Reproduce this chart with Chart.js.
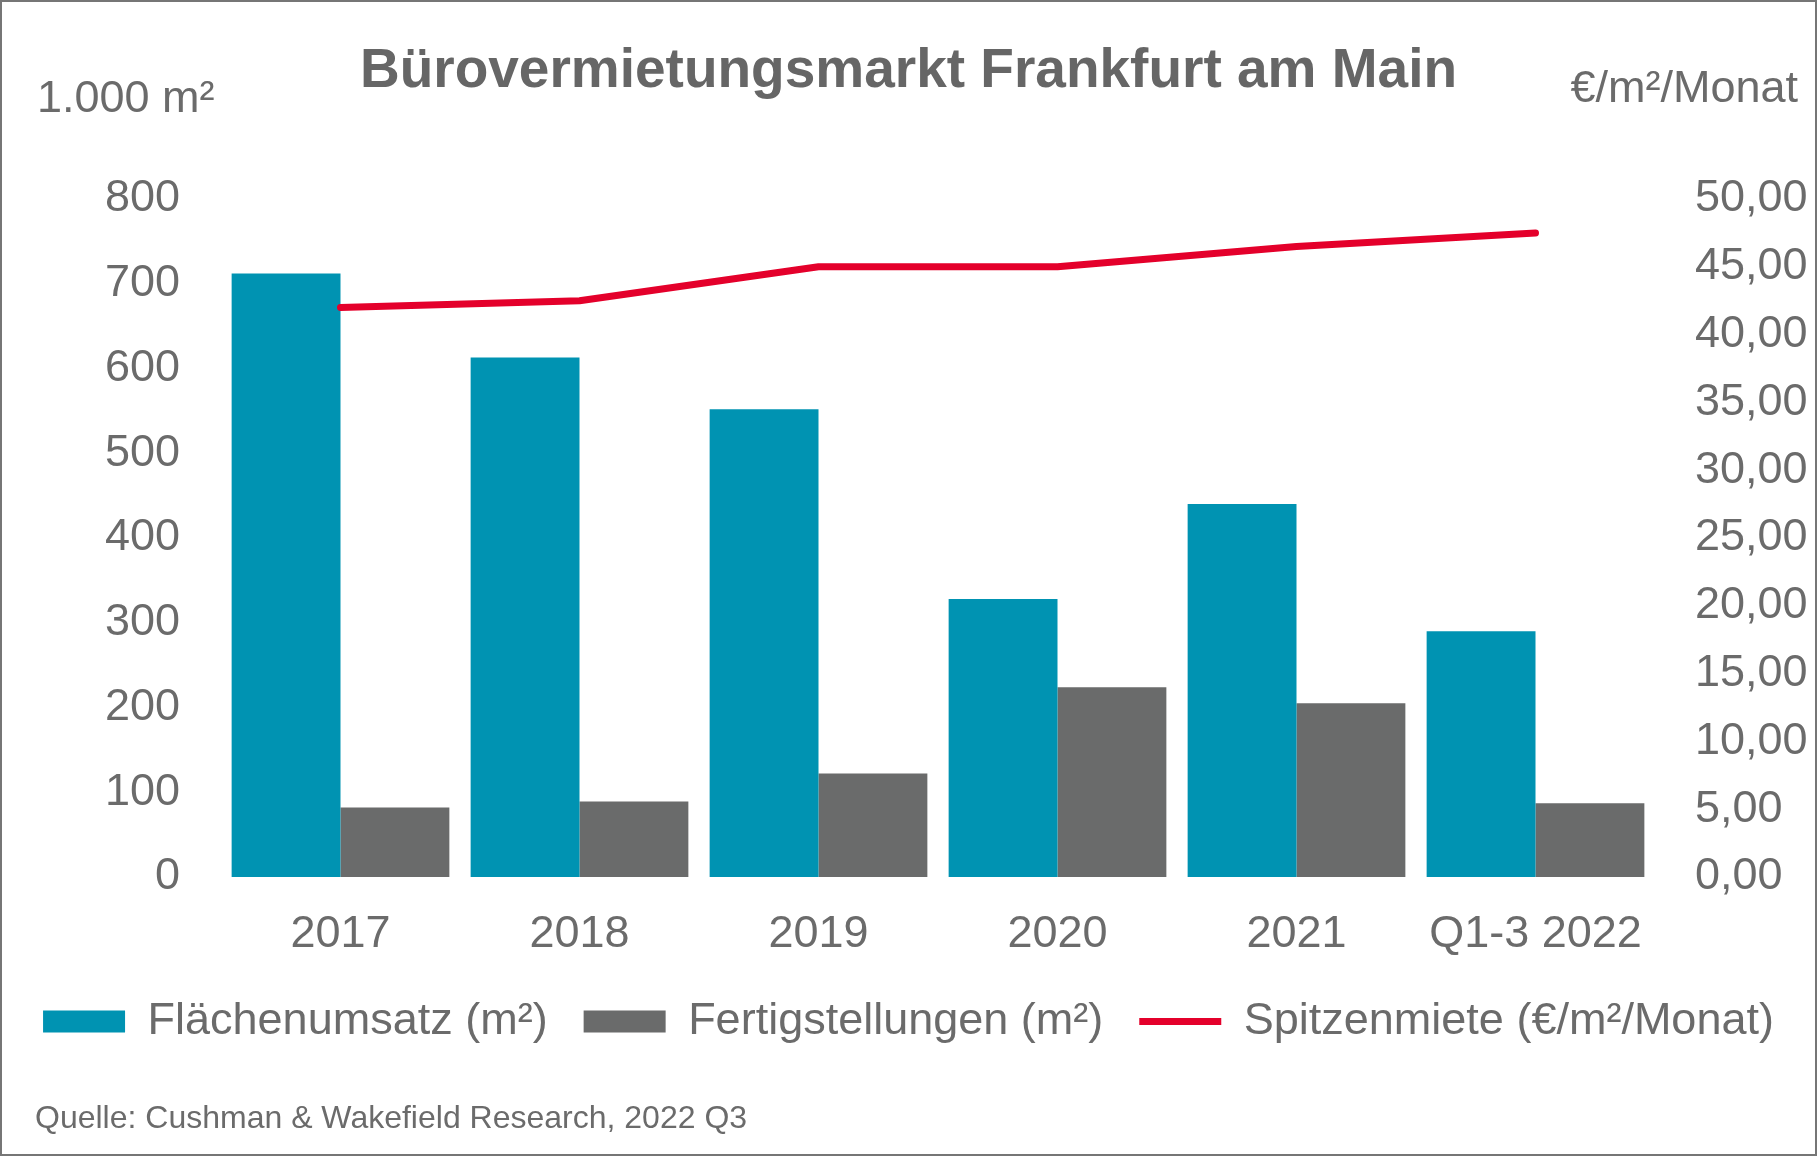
<!DOCTYPE html>
<html lang="de">
<head>
<meta charset="utf-8">
<title>Bürovermietungsmarkt Frankfurt am Main</title>
<script src="https://cdn.jsdelivr.net/npm/chart.js@4/dist/chart.umd.min.js"></script>
<style>
    html, body { margin: 0; padding: 0; background: #fff; }
    #frame {
        position: absolute; left: 0; top: 0;
        width: 1817px; height: 1156px;
        box-sizing: border-box;
        border: 2px solid #767676;
        background: #fff;
    }
    canvas { display: block; }
</style>
</head>
<body>
<div id="frame"><canvas id="officeChart" width="1813" height="1152"></canvas></div>
<script>
// Data
const categories = ['2017', '2018', '2019', '2020', '2021', 'Q1-3 2022'];
const flaechenumsatz = [712, 613, 552, 328, 440, 290];      // 1.000 m²
const fertigstellungen = [82, 89, 122, 224, 205, 87];       // 1.000 m²
const spitzenmiete = [42.0, 42.5, 45.0, 45.0, 46.5, 47.5];  // €/m²/Monat

const seriesNames = ['Flächenumsatz (m²)', 'Fertigstellungen (m²)', 'Spitzenmiete (€/m²/Monat)'];
const leftAxisMax = 800, leftAxisStep = 100;
const rightAxisMax = 50, rightAxisStep = 5;
const leftUnit = '1.000 m²';
const rightUnit = '€/m²/Monat';
const sourceNote = 'Quelle: Cushman & Wakefield Research, 2022 Q3';

const FONT = '"Liberation Sans", Arial, sans-serif';
const TEXT = '#6b6b6b';

// unit labels at the top and the source line at the bottom
const extraText = {
    id: 'extraText',
    afterDraw(chart) {
        const ctx = chart.ctx;
        ctx.save();
        ctx.fillStyle = TEXT;
        ctx.textBaseline = 'alphabetic';
        ctx.font = '45px ' + FONT;
        ctx.textAlign = 'left';
        ctx.fillText(leftUnit, 35, 110);
        ctx.textAlign = 'right';
        ctx.fillText(rightUnit, 1796, 100);
        ctx.font = '32px ' + FONT;
        ctx.textAlign = 'left';
        ctx.fillText(sourceNote, 33, 1126);
        ctx.restore();
    }
};

const ctx = document.getElementById('officeChart').getContext('2d');

new Chart(ctx, {
    type: 'bar',
    data: {
        labels: categories,
        datasets: [{
            label: seriesNames[0],
            data: flaechenumsatz,
            backgroundColor: '#0093b2',
            borderWidth: 0,
            yAxisID: 'y',
            order: 1
        }, {
            label: seriesNames[1],
            data: fertigstellungen,
            backgroundColor: '#6a6b6b',
            borderWidth: 0,
            yAxisID: 'y',
            order: 1
        }, {
            type: 'line',
            label: seriesNames[2],
            data: spitzenmiete,
            borderColor: '#e4002b',
            backgroundColor: '#e4002b',
            borderWidth: 7,
            borderCapStyle: 'round',
            borderJoinStyle: 'round',
            pointRadius: 0,
            tension: 0,
            yAxisID: 'y1',
            order: 0
        }]
    },
    options: {
        responsive: false,
        animation: false,
        devicePixelRatio: 1,
        categoryPercentage: 0.911,
        barPercentage: 1,
        layout: { padding: { left: 0, right: 0, top: 0, bottom: 100 } },
        plugins: {
            tooltip: { enabled: false },
            title: {
                display: true,
                text: 'Bürovermietungsmarkt Frankfurt am Main',
                color: '#666666',
                font: { family: FONT, size: 55, weight: 'bold' },
                padding: { top: 37, bottom: 94 }
            },
            legend: {
                position: 'bottom',
                labels: {
                    color: TEXT,
                    font: { family: FONT, size: 45 },
                    usePointStyle: true,
                    pointStyleWidth: 82,
                    boxHeight: 22,
                    padding: 36,
                    generateLabels(chart) {
                        const items = Chart.defaults.plugins.legend.labels.generateLabels(chart);
                        items.sort((a, b) => a.datasetIndex - b.datasetIndex);
                        items.forEach(it => { it.pointStyle = it.datasetIndex === 2 ? 'line' : 'rect'; });
                        return items;
                    }
                }
            }
        },
        scales: {
            x: {
                grid: { display: false, drawTicks: false },
                border: { display: false },
                ticks: { color: TEXT, font: { family: FONT, size: 45 }, padding: 31, maxRotation: 0 },
                afterFit(scale) { scale.height = 86; }
            },
            y: {
                position: 'left',
                min: 0,
                max: leftAxisMax,
                grid: { display: false, drawTicks: false },
                border: { display: false },
                ticks: { stepSize: leftAxisStep, autoSkip: false, color: TEXT, font: { family: FONT, size: 45 }, padding: 41 },
                afterFit(scale) { scale.width = 219; }
            },
            y1: {
                position: 'right',
                min: 0,
                max: rightAxisMax,
                grid: { display: false, drawTicks: false },
                border: { display: false },
                ticks: {
                    stepSize: rightAxisStep,
                    autoSkip: false,
                    color: TEXT,
                    font: { family: FONT, size: 45 },
                    padding: 40,
                    callback: v => v.toFixed(2).replace('.', ',')
                },
                afterFit(scale) { scale.width = 160; }
            }
        }
    },
    plugins: [extraText]
});
</script>
</body>
</html>
